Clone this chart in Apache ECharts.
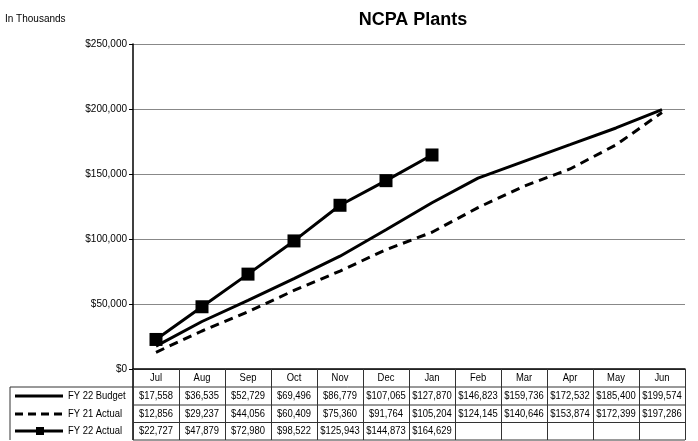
<!DOCTYPE html>
<html><head><meta charset="utf-8">
<script src="https://cdn.jsdelivr.net/npm/echarts@6/dist/echarts.min.js"></script>
<style>html,body{margin:0;padding:0;background:#fff}#c{width:698px;height:441px}</style>
</head><body><div id="c"></div>
<script>
const months = ['Jul','Aug','Sep','Oct','Nov','Dec','Jan','Feb','Mar','Apr','May','Jun'];
const budget22 = [17558,36535,52729,69496,86779,107065,127870,146823,159736,172532,185400,199574];
const actual21 = [12856,29237,44056,60409,75360,91764,105204,124145,140646,153874,172399,197286];
const actual22 = [22727,47879,72980,98522,125943,144873,164629,null,null,null,null,null];
const seriesNames = ['FY 22 Budget','FY 21 Actual','FY 22 Actual'];
const yTicks = [0,50000,100000,150000,200000,250000];

const fmt = v => v == null ? '' : '$' + v.toLocaleString('en-US');
const sans = '"Liberation Sans", Arial, sans-serif';

const chart = echarts.init(document.getElementById('c'), null, {renderer:'canvas'});
const option = {
  animation:false,
  backgroundColor:'#fff',
  title:{text:'NCPA Plants', left:408, top:6, textAlign:'center',
    textStyle:{fontFamily:sans, fontSize:18, fontWeight:'bold', color:'#000'}},
  grid:{left:133, right:13, top:44, bottom:72, containLabel:false},
  xAxis:{type:'category', data:months, boundaryGap:true,
    axisLine:{lineStyle:{color:'#000', width:1.5}},
    axisTick:{show:true, interval:0, length:71, lineStyle:{color:'#333', width:1}},
    axisLabel:{show:false},
    splitLine:{show:false}},
  yAxis:{type:'value', min:yTicks[0], max:yTicks[yTicks.length-1], interval:50000,
    axisLine:{show:true, lineStyle:{color:'#000', width:1.5}},
    axisTick:{show:true, length:4, lineStyle:{color:'#000'}},
    axisLabel:{formatter:v=>fmt(v), fontFamily:sans, fontSize:10, color:'#000', margin:6},
    splitLine:{show:true, lineStyle:{color:'#888', width:1}}},
  series:[
    {name:seriesNames[0], type:'line', data:budget22, symbol:'none',
      lineStyle:{color:'#000', width:3}},
    {name:seriesNames[1], type:'line', data:actual21, symbol:'none',
      lineStyle:{color:'#000', width:3, type:[9,6]}},
    {name:seriesNames[2], type:'line', data:actual22, symbol:'rect', symbolSize:13,
      itemStyle:{color:'#000'}, lineStyle:{color:'#000', width:3}}
  ]
};
chart.setOption(option);

// data table built from the arrays
const rows = [budget22, actual21, actual22];
const headerY = 378;
const rowY = [396, 414, 431];
const rowLines = [387, 405, 422.5, 440];
const leftX = 10, axisX = 133, rightX = 685;
const narrowText = (x, y, text, align) => ({type:'text', x:x, y:y, scaleX:0.82, scaleY:1,
  style:{text:text, fontFamily:sans, fontSize:11.5, fill:'#000', align:align, verticalAlign:'middle'}});
const g = [];
g.push({type:'text', left:5, top:14, style:{text:'In Thousands', fontFamily:sans, fontSize:10, fill:'#000'}});
rowLines.forEach((y,i)=>{
  g.push({type:'line', shape:{x1:i===0?leftX:axisX, y1:y, x2:rightX, y2:y}, style:{stroke:'#333', lineWidth:1}});
});
g.push({type:'line', shape:{x1:leftX, y1:rowLines[0], x2:leftX, y2:rowLines[3]}, style:{stroke:'#333', lineWidth:1}});
g.push({type:'line', shape:{x1:axisX, y1:369, x2:axisX, y2:rowLines[3]}, style:{stroke:'#000', lineWidth:1.5}});
months.forEach((m,i)=>{
  const x = chart.convertToPixel({xAxisIndex:0}, m);
  g.push(narrowText(x, headerY, m, 'center'));
});
rows.forEach((arr,r)=>{
  arr.forEach((v,i)=>{
    const x = chart.convertToPixel({xAxisIndex:0}, months[i]);
    g.push(narrowText(x, rowY[r], fmt(v), 'center'));
  });
  g.push(narrowText(68, rowY[r], seriesNames[r], 'left'));
});
// legend keys
g.push({type:'line', shape:{x1:15, y1:rowY[0], x2:63, y2:rowY[0]}, style:{stroke:'#000', lineWidth:3}});
g.push({type:'line', shape:{x1:15, y1:rowY[1], x2:63, y2:rowY[1]}, style:{stroke:'#000', lineWidth:3, lineDash:[8,5]}});
g.push({type:'line', shape:{x1:15, y1:rowY[2], x2:63, y2:rowY[2]}, style:{stroke:'#000', lineWidth:3}});
g.push({type:'rect', shape:{x:36, y:rowY[2]-4, width:8, height:8}, style:{fill:'#000'}});
chart.setOption({graphic:g});
</script></body></html>
